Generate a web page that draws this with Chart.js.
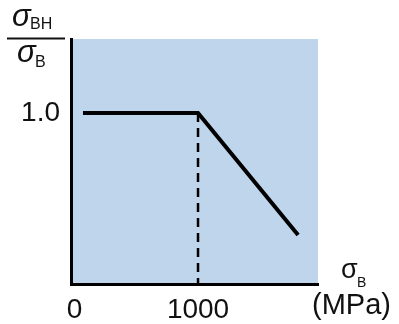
<!DOCTYPE html>
<html>
<head>
<meta charset="utf-8">
<script src="https://cdn.jsdelivr.net/npm/chart.js@4/dist/chart.umd.min.js"></script>
<style>
  html, body { margin: 0; padding: 0; background: #fff; }
  #wrap { position: relative; width: 399px; height: 324px; }
</style>
</head>
<body>
<div id="wrap"><canvas id="c"></canvas></div>
<script>
// Data
const strengthX = [69, 1000, 1810];        // σB (MPa)
const ratioY = [1.0, 1.0, 0.287];          // σBH / σB
const dashX = [1000, 1000];
const dashY = [1.0, 0];
const xTickValues = [0, 1000];
const xTickLabels = ['0', '1000'];
const yTickValues = [1.0];
const yTickLabels = ['1.0'];

const FONT = '"Liberation Sans", Arial, sans-serif';

const bgPlugin = {
  id: 'bg',
  beforeDraw(chart) {
    const { ctx, chartArea: a } = chart;
    ctx.save();
    ctx.fillStyle = 'rgb(191,213,236)';
    ctx.fillRect(a.left, a.top, a.right - a.left, a.bottom - a.top);
    ctx.restore();
  }
};

const titlePlugin = {
  id: 'titles',
  afterDraw(chart) {
    const ctx = chart.ctx;
    ctx.save();
    ctx.fillStyle = '#111';
    ctx.textBaseline = 'alphabetic';
    ctx.textAlign = 'left';
    // fraction σBH / σB
    ctx.font = 'italic 31px ' + FONT;
    ctx.fillText('σ', 12, 26);
    ctx.fillText('σ', 17, 62);
    ctx.font = '16px ' + FONT;
    ctx.fillText('BH', 30, 29);
    ctx.fillText('B', 35, 67);
    ctx.strokeStyle = '#111';
    ctx.lineWidth = 2;
    ctx.beginPath();
    ctx.moveTo(7, 38.5);
    ctx.lineTo(65, 38.5);
    ctx.stroke();
    // x title σB (MPa)
    ctx.font = '27px ' + FONT;
    ctx.fillText('σ', 341, 278);
    ctx.font = '14px ' + FONT;
    ctx.fillText('B', 357, 287);
    ctx.font = '29px ' + FONT;
    ctx.fillText('(MPa)', 312, 314);
    ctx.restore();
  }
};

new Chart(document.getElementById('c'), {
  type: 'line',
  data: {
    datasets: [
      {
        data: strengthX.map((x, i) => ({ x, y: ratioY[i] })),
        borderColor: '#000',
        borderWidth: 4,
        pointRadius: 0,
        tension: 0,
        borderJoinStyle: 'miter',
        borderCapStyle: 'butt',
        fill: false
      },
      {
        data: dashX.map((x, i) => ({ x, y: dashY[i] })),
        borderColor: '#000',
        borderWidth: 2.5,
        borderDash: [9, 6],
        pointRadius: 0,
        fill: false
      }
    ]
  },
  options: {
    responsive: true,
    maintainAspectRatio: false,
    animation: false,
    events: [],
    layout: { padding: { top: 39, right: 81, left: 0, bottom: 0 } },
    plugins: { legend: { display: false }, tooltip: { enabled: false } },
    scales: {
      x: {
        type: 'linear',
        min: -28,
        max: 1971,
        grid: { display: false, drawTicks: false },
        border: { display: true, color: '#000', width: 3 },
        afterBuildTicks(scale) { scale.ticks = xTickValues.map(v => ({ value: v })); },
        afterFit(scale) { scale.height = 40; },
        ticks: {
          color: '#111',
          padding: 9,
          font: { size: 28, family: FONT },
          maxRotation: 0,
          callback(v) { const i = xTickValues.indexOf(v); return i >= 0 ? xTickLabels[i] : ''; }
        }
      },
      y: {
        type: 'linear',
        min: 0,
        max: 1.433,
        grid: { display: false, drawTicks: false },
        border: { display: true, color: '#000', width: 3 },
        afterBuildTicks(scale) { scale.ticks = yTickValues.map(v => ({ value: v })); },
        afterFit(scale) { scale.width = 71; },
        ticks: {
          color: '#111',
          padding: 11,
          font: { size: 28, family: FONT },
          callback(v) { const i = yTickValues.indexOf(v); return i >= 0 ? yTickLabels[i] : ''; }
        }
      }
    }
  },
  plugins: [bgPlugin, titlePlugin]
});
</script>
</body>
</html>
